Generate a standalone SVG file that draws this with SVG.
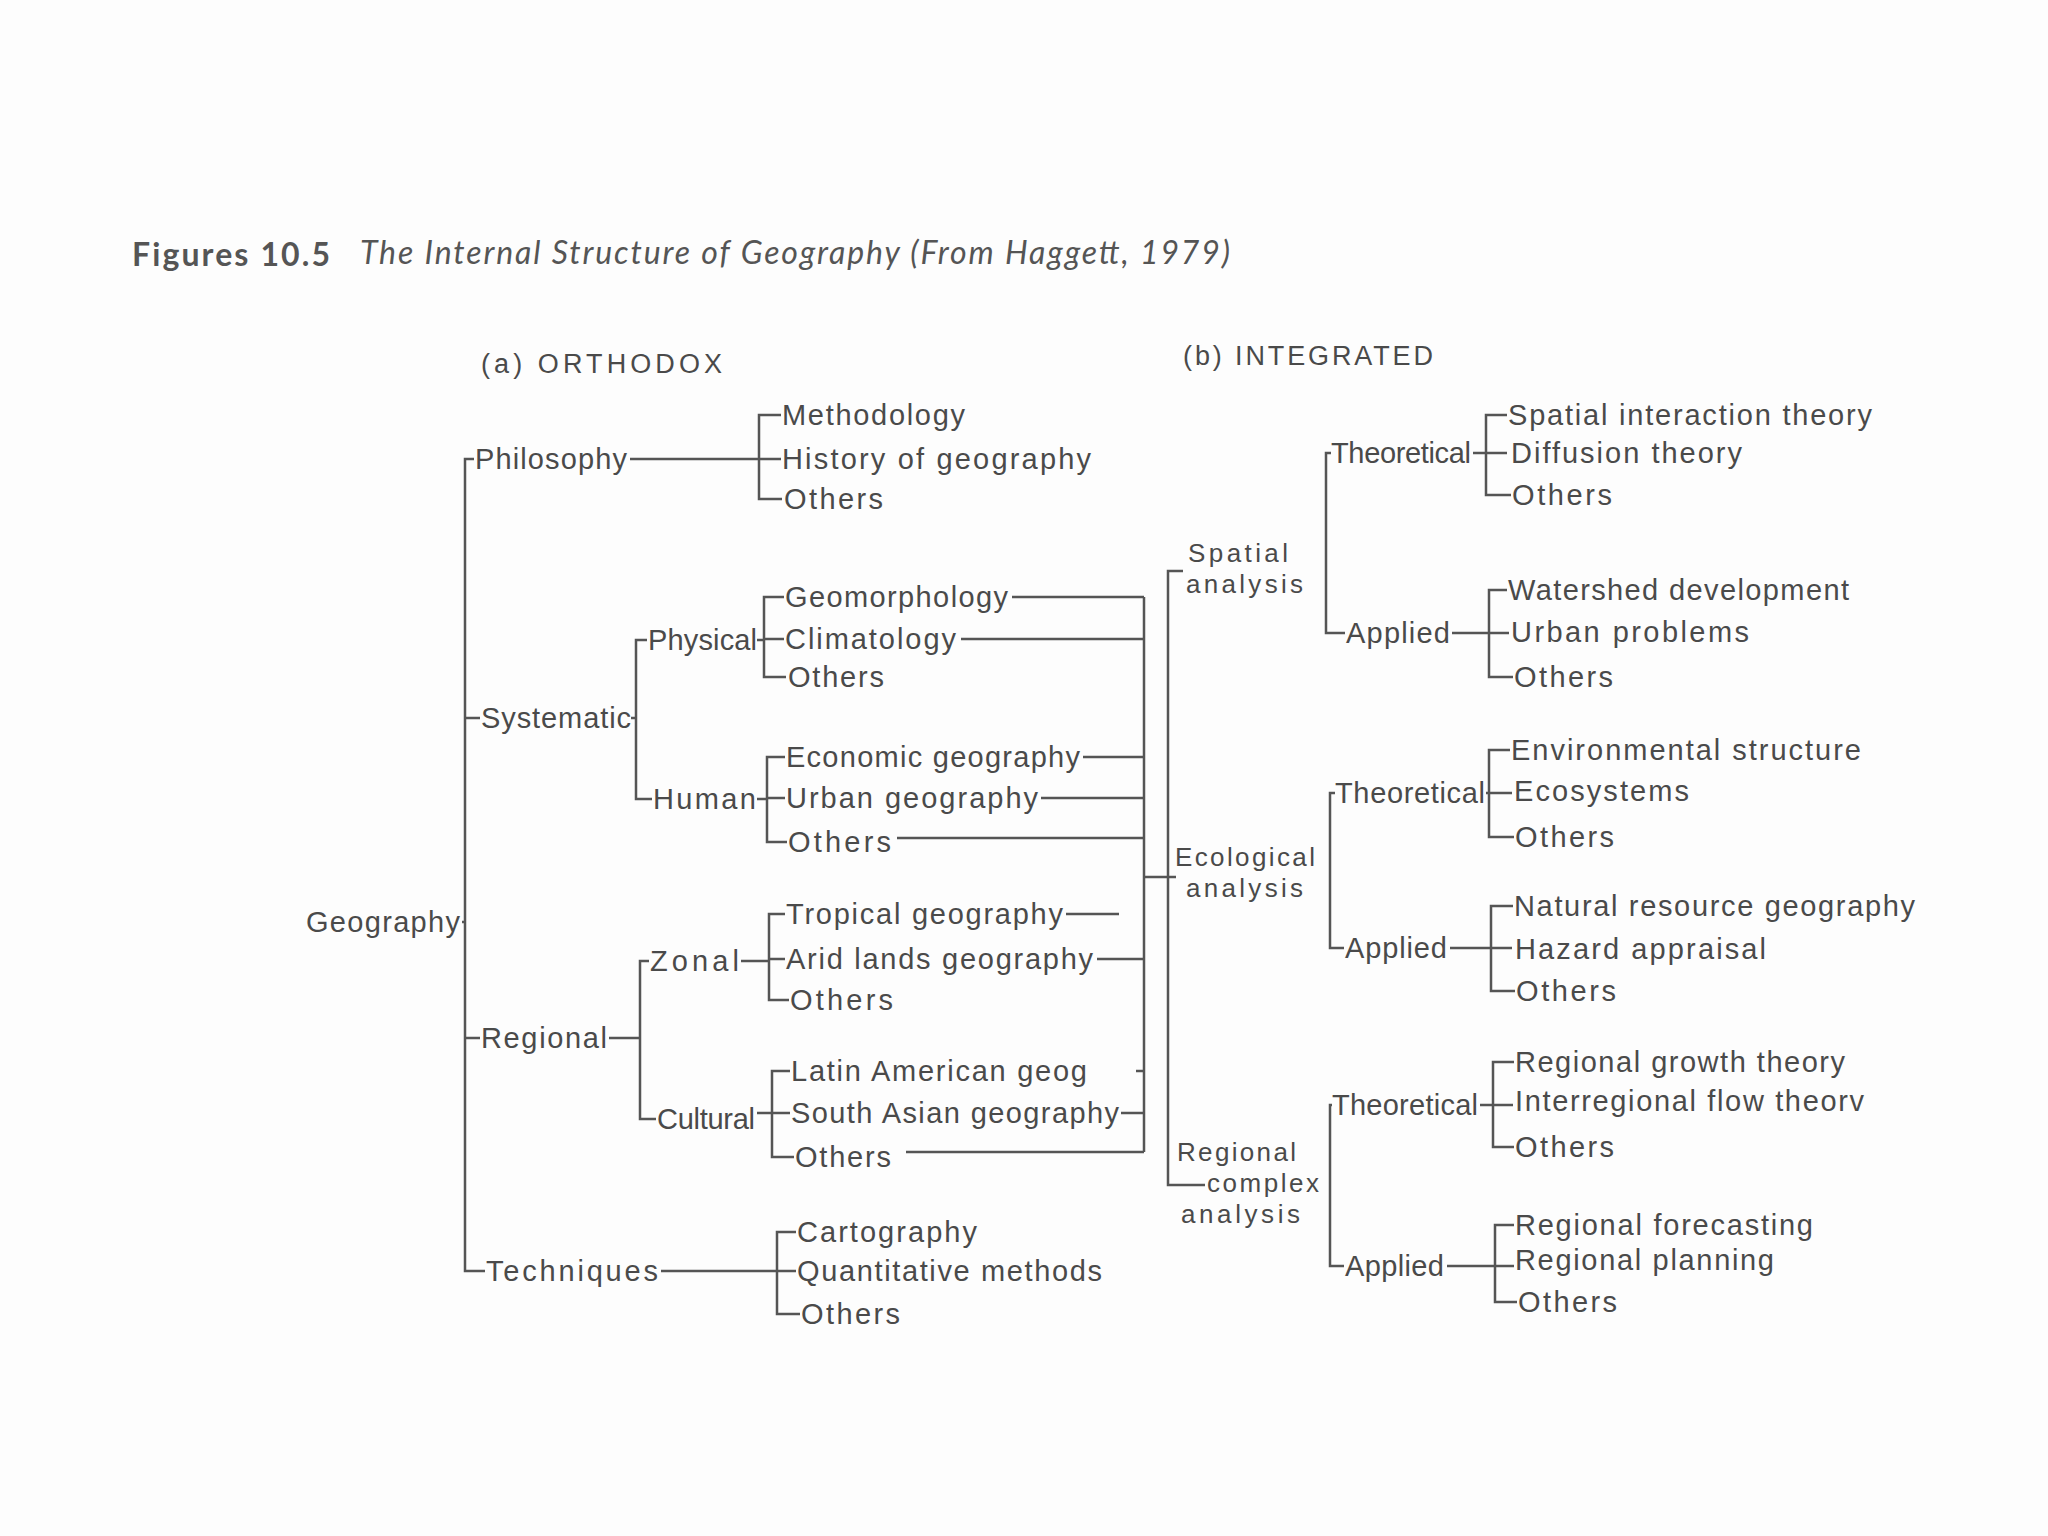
<svg xmlns="http://www.w3.org/2000/svg" width="2048" height="1536" viewBox="0 0 2048 1536">
<style>
.t{font-family:"Liberation Sans",Arial,sans-serif;font-size:29px;fill:#4a4a4a;}
.m{font-family:"Liberation Sans",Arial,sans-serif;font-size:26px;fill:#4a4a4a;}
.h{font-family:"Liberation Sans",Arial,sans-serif;font-size:27px;fill:#4a4a4a;}
.ti{font-family:Lato,"Open Sans",sans-serif;font-size:32px;fill:#555;}
.c{fill:none;stroke:#555;stroke-width:2.5;}
</style>
<rect width="2048" height="1536" fill="#fdfdfd"/>
<g id="title">
<text class="ti" x="132" y="266" font-weight="bold" textLength="198">Figures 10.5</text>
<text class="ti" x="360" y="264" font-style="italic" textLength="870">The Internal Structure of Geography (From Haggett, 1979)</text>
</g>
<g id="head-a"><text class="h" x="481" y="373" textLength="241">(a) ORTHODOX</text></g>
<g id="head-b"><text class="h" x="1183" y="365" textLength="250">(b) INTEGRATED</text></g>

<g id="connectors" class="c">
<path d="M462 922 H465 M474 459 H465 V1271 H485 M465 718 H480 M465 1038 H480"/>
<path d="M630 459 H759 M781 415 H759 V499 H782 M759 459 H781"/>
<path d="M631 718 H636 M647 640 H636 V799 H652"/>
<path d="M757 640 H764 M784 597 H764 V677 H786 M764 639 H784"/>
<path d="M1012 597 H1144 M961 639 H1144"/>
<path d="M757 799 H767 M785 757 H767 V842 H787 M767 798 H785"/>
<path d="M1083 757 H1144 M1041 798 H1144 M897 838 H1144"/>
<path d="M609 1038 H640 M649 961 H640 V1119 H656"/>
<path d="M741 961 H769 M785 914 H769 V1000 H789 M769 959 H785"/>
<path d="M1066 914 H1119 M1097 959 H1144"/>
<path d="M757 1113 H772 M790 1071 H772 V1157 H794 M772 1113 H790"/>
<path d="M1136 1071 H1144 M1121 1113 H1144 M906 1152 H1144"/>
<path d="M1144 597 V1152 M1144 877 H1176"/>
<path d="M661 1271 H777 M796 1232 H777 V1314 H800 M777 1271 H796"/>
<path d="M1183 571 H1168 V1185 H1205"/>
<path d="M1331 453 H1326 V633 H1345"/>
<path d="M1473 453 H1507 M1507 415 H1486 V495 H1511"/>
<path d="M1452 633 H1509 M1507 590 H1489 V677 H1513"/>
<path d="M1335 793 H1330 V948 H1344"/>
<path d="M1486 793 H1512 M1510 750 H1489 V837 H1514"/>
<path d="M1450 948 H1512 M1513 906 H1491 V991 H1515"/>
<path d="M1332 1105 H1330 V1266 H1344"/>
<path d="M1480 1105 H1513 M1514 1062 H1493 V1147 H1514"/>
<path d="M1447 1266 H1514 M1514 1225 H1495 V1302 H1517"/>
</g>

<g id="n-geography"><text class="t" x="306" y="932" textLength="154">Geography</text></g>
<g id="n-philosophy"><text class="t" x="475" y="469" textLength="152">Philosophy</text></g>
<g id="n-methodology"><text class="t" x="782" y="425" textLength="183">Methodology</text></g>
<g id="n-history"><text class="t" x="782" y="469" textLength="309">History of geography</text></g>
<g id="n-philo-others"><text class="t" x="784" y="509" textLength="99">Others</text></g>

<g id="n-systematic"><text class="t" x="481" y="728" textLength="150">Systematic</text></g>
<g id="n-physical"><text class="t" x="648" y="650" textLength="109">Physical</text></g>
<g id="n-geomorphology"><text class="t" x="785" y="607" textLength="223">Geomorphology</text></g>
<g id="n-climatology"><text class="t" x="785" y="649" textLength="171">Climatology</text></g>
<g id="n-phys-others"><text class="t" x="788" y="687" textLength="96">Others</text></g>
<g id="n-human"><text class="t" x="653" y="809" textLength="103">Human</text></g>
<g id="n-economic"><text class="t" x="786" y="767" textLength="294">Economic geography</text></g>
<g id="n-urban"><text class="t" x="786" y="808" textLength="252">Urban geography</text></g>
<g id="n-human-others"><text class="t" x="788" y="852" textLength="103">Others</text></g>

<g id="n-regional"><text class="t" x="481" y="1048" textLength="126">Regional</text></g>
<g id="n-zonal"><text class="t" x="650" y="971" textLength="89">Zonal</text></g>
<g id="n-tropical"><text class="t" x="786" y="924" textLength="277">Tropical geography</text></g>
<g id="n-arid"><text class="t" x="786" y="969" textLength="307">Arid lands geography</text></g>
<g id="n-zonal-others"><text class="t" x="790" y="1010" textLength="103">Others</text></g>
<g id="n-cultural"><text class="t" x="657" y="1129" textLength="98">Cultural</text></g>
<g id="n-latin"><text class="t" x="791" y="1081" textLength="296">Latin American geog</text></g>
<g id="n-southasian"><text class="t" x="791" y="1123" textLength="328">South Asian geography</text></g>
<g id="n-cult-others"><text class="t" x="795" y="1167" textLength="96">Others</text></g>

<g id="n-techniques"><text class="t" x="486" y="1281" textLength="172">Techniques</text></g>
<g id="n-cartography"><text class="t" x="797" y="1242" textLength="180">Cartography</text></g>
<g id="n-quant"><text class="t" x="797" y="1281" textLength="305">Quantitative methods</text></g>
<g id="n-tech-others"><text class="t" x="801" y="1324" textLength="99">Others</text></g>

<g id="n-spatial"><text class="m" x="1188" y="562" textLength="100">Spatial</text><text class="m" x="1186" y="593" textLength="117">analysis</text></g>
<g id="n-ecological"><text class="m" x="1175" y="866" textLength="140">Ecological</text><text class="m" x="1186" y="897" textLength="117">analysis</text></g>
<g id="n-regcomplex"><text class="m" x="1177" y="1161" textLength="119">Regional</text><text class="m" x="1207" y="1192" textLength="112">complex</text><text class="m" x="1181" y="1223" textLength="119">analysis</text></g>

<g id="n-sp-theoretical"><text class="t" x="1331" y="463" textLength="140">Theoretical</text></g>
<g id="n-sp-sit"><text class="t" x="1508" y="425" textLength="364">Spatial interaction theory</text></g>
<g id="n-sp-diff"><text class="t" x="1511" y="463" textLength="231">Diffusion theory</text></g>
<g id="n-sp-th-others"><text class="t" x="1512" y="505" textLength="100">Others</text></g>
<g id="n-sp-applied"><text class="t" x="1346" y="643" textLength="104">Applied</text></g>
<g id="n-sp-watershed"><text class="t" x="1508" y="600" textLength="341">Watershed development</text></g>
<g id="n-sp-urban"><text class="t" x="1511" y="642" textLength="238">Urban problems</text></g>
<g id="n-sp-ap-others"><text class="t" x="1514" y="687" textLength="99">Others</text></g>

<g id="n-ec-theoretical"><text class="t" x="1335" y="803" textLength="150">Theoretical</text></g>
<g id="n-ec-env"><text class="t" x="1511" y="760" textLength="350">Environmental structure</text></g>
<g id="n-ec-eco"><text class="t" x="1514" y="801" textLength="175">Ecosystems</text></g>
<g id="n-ec-th-others"><text class="t" x="1515" y="847" textLength="99">Others</text></g>
<g id="n-ec-applied"><text class="t" x="1345" y="958" textLength="102">Applied</text></g>
<g id="n-ec-natural"><text class="t" x="1514" y="916" textLength="401">Natural resource geography</text></g>
<g id="n-ec-hazard"><text class="t" x="1515" y="959" textLength="251">Hazard appraisal</text></g>
<g id="n-ec-ap-others"><text class="t" x="1516" y="1001" textLength="100">Others</text></g>

<g id="n-rc-theoretical"><text class="t" x="1332" y="1115" textLength="146">Theoretical</text></g>
<g id="n-rc-growth"><text class="t" x="1515" y="1072" textLength="330">Regional growth theory</text></g>
<g id="n-rc-flow"><text class="t" x="1515" y="1111" textLength="349">Interregional flow theorv</text></g>
<g id="n-rc-th-others"><text class="t" x="1515" y="1157" textLength="99">Others</text></g>
<g id="n-rc-applied"><text class="t" x="1345" y="1276" textLength="99">Applied</text></g>
<g id="n-rc-forecast"><text class="t" x="1515" y="1235" textLength="298">Regional forecasting</text></g>
<g id="n-rc-planning"><text class="t" x="1515" y="1270" textLength="259">Regional planning</text></g>
<g id="n-rc-ap-others"><text class="t" x="1518" y="1312" textLength="99">Others</text></g>
</svg>
